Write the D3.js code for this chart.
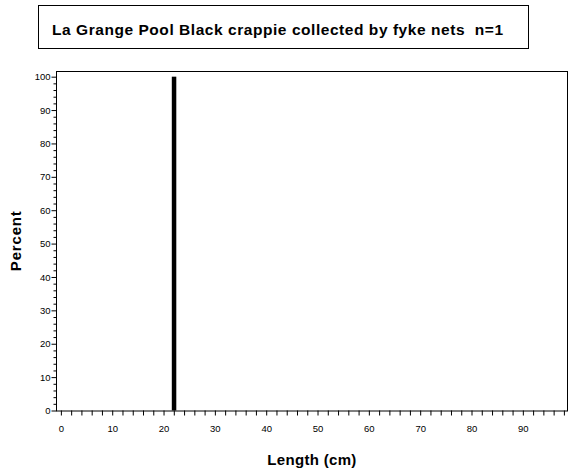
<!DOCTYPE html>
<html>
<head>
<meta charset="utf-8">
<script src="https://cdn.jsdelivr.net/npm/d3@7"></script>
<style>
  body { margin: 0; background: #fff; }
  text { font-family: "Liberation Sans", Arial, sans-serif; fill: #000; }
</style>
</head>
<body>
<div id="chart"></div>
<script>
// one fish, so one bar at 22 cm
let lengths = [22];
let percents = [100];
let xTickLabels = [0, 10, 20, 30, 40, 50, 60, 70, 80, 90];
let yTickLabels = [0, 10, 20, 30, 40, 50, 60, 70, 80, 90, 100];
let titleText = "La Grange Pool Black crappie collected by fyke nets  n=1";

let width = 570, height = 475;
let plot = {left: 56, right: 568, top: 71, bottom: 410.5};

let svg = d3.select("#chart")
    .append("svg")
    .attr("width", width)
    .attr("height", height);

let x = d3.scaleLinear()
    .domain([-0.95, 98.8])
    .range([plot.left, plot.right]);

let y = d3.scaleLinear()
    .domain([0, 101.7])
    .range([plot.bottom, plot.top]);

// widen a text with letter spacing until it is as wide as the reference
function spreadTo(sel, target) {
    let w = sel.node().getComputedTextLength();
    let n = sel.text().length;
    sel.style("letter-spacing", ((target - w) / (n - 1)) + "px");
}

// title box
svg.append("rect")
    .attr("x", 38.5).attr("y", 5.5)
    .attr("width", 490).attr("height", 43)
    .attr("fill", "none").attr("stroke", "#000");
let title = svg.append("text")
    .attr("x", 52).attr("y", 35)
    .style("font-size", "15.5px")
    .style("font-weight", "bold")
    .style("white-space", "pre")
    .text(titleText);
spreadTo(title, 451);

// frame
svg.append("rect")
    .attr("x", plot.left + 0.5).attr("y", plot.top + 0.5)
    .attr("width", plot.right - plot.left - 1).attr("height", plot.bottom - plot.top)
    .attr("fill", "none").attr("stroke", "#000");

// x axis: minor ticks every 2 cm, labels every 10
let xAxis = svg.append("g")
    .attr("transform", `translate(0,${plot.bottom})`)
    .call(d3.axisBottom(x).tickValues(d3.range(0, 99, 2)).tickSize(5)
        .tickFormat(d => xTickLabels.includes(d) ? d : ""));
xAxis.select(".domain").remove();
xAxis.selectAll("text").style("font-size", "9.5px").attr("dy", "1.2em").attr("y", 10);

// y axis
let yAxis = svg.append("g")
    .attr("transform", `translate(${plot.left + 0.5},0)`)
    .call(d3.axisLeft(y).tickValues(d3.range(0, 101, 2))
        .tickSize(0)
        .tickFormat(d => yTickLabels.includes(d) ? d : ""));
yAxis.select(".domain").remove();
yAxis.selectAll(".tick line")
    .attr("x2", d => yTickLabels.includes(d) ? -5 : -3)
    .attr("stroke", "#000");
yAxis.selectAll("text").style("font-size", "9.5px").attr("x", -6);

// bars
svg.append("g").selectAll("rect")
    .data(lengths)
    .enter()
    .append("rect")
    .attr("x", d => x(d) - 2)
    .attr("width", 4.5)
    .attr("y", (d, i) => y(percents[i]))
    .attr("height", (d, i) => y(0) - y(percents[i]))
    .attr("fill", "#000");

// axis titles
let xTitle = svg.append("text")
    .attr("x", (plot.left + plot.right) / 2).attr("y", 465)
    .style("text-anchor", "middle")
    .style("font-size", "15px").style("font-weight", "bold")
    .text("Length (cm)");
spreadTo(xTitle, 89);
let yTitle = svg.append("text")
    .attr("transform", `translate(21,${(plot.top + plot.bottom) / 2}) rotate(-90)`)
    .style("text-anchor", "middle")
    .style("font-size", "15px").style("font-weight", "bold")
    .text("Percent");
spreadTo(yTitle, 60);
</script>
</body>
</html>
